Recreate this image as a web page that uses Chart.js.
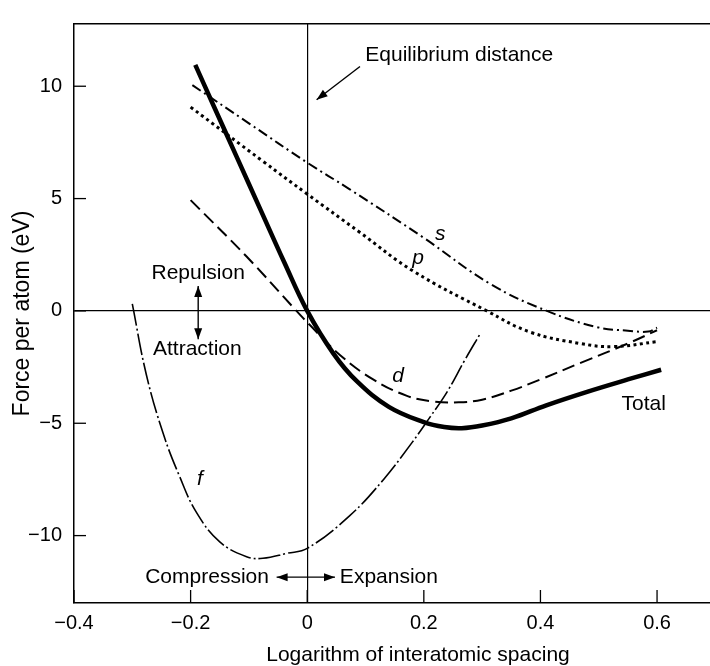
<!DOCTYPE html>
<html><head><meta charset="utf-8">
<script src="https://cdn.jsdelivr.net/npm/chart.js@4/dist/chart.umd.min.js"></script>
<style>html,body{margin:0;padding:0;overflow:hidden;background:#fff}
#wrap{position:relative;width:762px;height:666px}</style></head>
<body><div id="wrap"><canvas id="c"></canvas></div>
<script>
// ---- tick labels ----
const xTicks = [-0.4, -0.2, 0, 0.2, 0.4, 0.6];
const yTicks = [-10, -5, 0, 5, 10];

// ---- series ----
const totalX = [-0.192,-0.16,-0.12,-0.08,-0.04,0,0.045,0.085,0.14,0.2,0.235,0.265,0.3,0.35,0.41,0.48,0.55,0.607];
const totalY = [10.95,9.1,6.8,4.5,2.2,0,-1.9,-3.13,-4.27,-4.95,-5.17,-5.22,-5.1,-4.78,-4.2,-3.6,-3.05,-2.62];

const sX = [-0.197,-0.1,0,0.073,0.2,0.314,0.411,0.497,0.55,0.585,0.6];
const sY = [10.05,8.35,6.6,5.41,3.25,1.2,0.0,-0.72,-0.88,-0.92,-0.75];

const pX = [-0.2,-0.076,0,0.09,0.182,0.308,0.382,0.468,0.525,0.6];
const pY = [9.07,6.66,5.2,3.5,1.77,0,-0.94,-1.45,-1.59,-1.37];

const dX = [-0.2,-0.104,-0.024,0.005,0.056,0.113,0.171,0.216,0.26,0.3,0.35,0.4,0.47,0.55,0.6];
const dY = [4.93,2.42,0.16,-0.64,-1.96,-3.05,-3.78,-4.03,-4.07,-3.95,-3.55,-3.05,-2.3,-1.45,-0.86];

const fX = [-0.3,-0.276,-0.247,-0.219,-0.19,-0.15,-0.104,-0.076,-0.035,0,0.073,0.131,0.18,0.21,0.24,0.27,0.297];
const fY = [0.31,-2.83,-5.46,-7.36,-8.97,-10.28,-10.94,-11.01,-10.79,-10.57,-9.11,-7.5,-5.85,-4.75,-3.6,-2.2,-1.0];

// ---- annotation texts (data coordinates) ----
const notes = [
  {text:'Equilibrium distance', x:0.0996, y:11.37, align:'left'},
  {text:'Repulsion', x:-0.187, y:1.68, align:'center'},
  {text:'Attraction', x:-0.1885, y:-1.70, align:'center'},
  {text:'Compression', x:-0.1718, y:-11.85, align:'center'},
  {text:'Expansion', x:0.056, y:-11.85, align:'left'},
  {text:'Total', x:0.577, y:-4.13, align:'center'},
  {text:'s', x:0.228, y:3.42, align:'center', italic:true},
  {text:'p', x:0.19, y:2.35, align:'center', italic:true},
  {text:'d', x:0.156, y:-2.9, align:'center', italic:true},
  {text:'f', x:-0.184, y:-7.5, align:'center', italic:true}
];
const arrows = [
  {x1:0.0905, y1:10.88, x2:0.0161, y2:9.4, h1:false, h2:true},
  {x1:-0.187, y1:1.11, x2:-0.187, y2:-1.26, h1:true, h2:true},
  {x1:-0.0525, y1:-11.85, x2:0.0476, y2:-11.85, h1:true, h2:true}
];

const FONT = '"Liberation Sans", Arial, Helvetica, sans-serif';
const zip = (xs, ys) => xs.map((x, i) => ({x, y: ys[i]}));
const fmt = v => (v < 0 ? '\u2212' : '') + String(Math.abs(Math.round(v * 10) / 10));

function head(ctx, xa, ya, xb, yb) {
  const a = Math.atan2(yb - ya, xb - xa), L = 11, W = 4;
  ctx.beginPath();
  ctx.moveTo(xb, yb);
  ctx.lineTo(xb - L * Math.cos(a) + W * Math.sin(a), yb - L * Math.sin(a) - W * Math.cos(a));
  ctx.lineTo(xb - L * Math.cos(a) - W * Math.sin(a), yb - L * Math.sin(a) + W * Math.cos(a));
  ctx.closePath();
  ctx.fill();
}

const decor = {
  id: 'decor',
  afterDatasetsDraw(chart) {
    const {ctx, chartArea: ca, scales: {x, y}} = chart;
    ctx.save();
    ctx.strokeStyle = '#000'; ctx.fillStyle = '#000';
    ctx.lineWidth = 1.3;
    yTicks.forEach(v => {
      const py = y.getPixelForValue(v);
      ctx.beginPath(); ctx.moveTo(ca.left, py); ctx.lineTo(ca.left + 12, py); ctx.stroke();
    });
    xTicks.forEach(v => {
      const px = x.getPixelForValue(v);
      ctx.beginPath(); ctx.moveTo(px, ca.bottom); ctx.lineTo(px, ca.bottom - 13); ctx.stroke();
    });
    ctx.lineWidth = 1.4;
    arrows.forEach(a => {
      const X1 = x.getPixelForValue(a.x1), Y1 = y.getPixelForValue(a.y1);
      const X2 = x.getPixelForValue(a.x2), Y2 = y.getPixelForValue(a.y2);
      ctx.beginPath(); ctx.moveTo(X1, Y1); ctx.lineTo(X2, Y2); ctx.stroke();
      if (a.h2) head(ctx, X1, Y1, X2, Y2);
      if (a.h1) head(ctx, X2, Y2, X1, Y1);
    });
    ctx.textBaseline = 'middle';
    notes.forEach(n => {
      ctx.font = (n.italic ? 'italic ' : '') + '21px ' + FONT;
      ctx.textAlign = n.align;
      ctx.fillText(n.text, x.getPixelForValue(n.x), y.getPixelForValue(n.y));
    });
    ctx.restore();
  }
};

const base = {borderColor:'#000', pointRadius:0, fill:false, tension:0.4, borderCapStyle:'butt', borderJoinStyle:'round'};

new Chart(document.getElementById('c'), {
  type: 'line',
  data: {
    datasets: [
      Object.assign({label:'f', data: zip(fX, fY), borderWidth:1.6, borderDash:[22,3,2,3]}, base),
      Object.assign({label:'d', data: zip(dX, dY), borderWidth:2, borderDash:[13,6]}, base),
      Object.assign({label:'p', data: zip(pX, pY), borderWidth:3, borderDash:[3,3.5]}, base),
      Object.assign({label:'s', data: zip(sX, sY), borderWidth:2, borderDash:[10,4,2,4]}, base),
      Object.assign({label:'Total', data: zip(totalX, totalY), borderWidth:4.5}, base)
    ]
  },
  options: {
    responsive: true,
    maintainAspectRatio: false,
    animation: false,
    layout: {padding: {top:0, right:0, bottom:0, left:0}},
    plugins: {legend:{display:false}, tooltip:{enabled:false}},
    scales: {
      x: {
        type:'linear', position:'bottom', min:-0.4, max:0.78,
        afterBuildTicks: s => { s.ticks = xTicks.map(v => ({value:v})); },
        afterFit: s => { s.height = 63; },
        grid: {drawTicks:false, color: c => (c.tick && c.tick.value === 0) ? '#000' : 'rgba(0,0,0,0)', lineWidth:1.2},
        border: {display:true, color:'#000', width:1.5},
        ticks: {padding:8, autoSkip:false, maxRotation:0, color:'#000', font:{family:FONT, size:20}, callback: v => fmt(v)},
        title: {display:true, text:'Logarithm of interatomic spacing', color:'#000', font:{family:FONT, size:21, lineHeight:1}, padding:{top:0, bottom:0}}
      },
      x2: {
        type:'linear', position:'top', min:-0.4, max:0.78,
        afterFit: s => { s.height = 14; },
        grid: {display:false, drawTicks:false},
        ticks: {display:false},
        border: {display:true, color:'#000', width:1.5}
      },
      y: {
        type:'linear', position:'left', min:-13, max:12.77,
        afterBuildTicks: s => { s.ticks = yTicks.map(v => ({value:v})); },
        afterFit: s => { s.width = 74; },
        grid: {drawTicks:false, color: c => (c.tick && c.tick.value === 0) ? '#000' : 'rgba(0,0,0,0)', lineWidth:1.2},
        border: {display:true, color:'#000', width:1.5},
        ticks: {padding:12, autoSkip:false, color:'#000', font:{family:FONT, size:20}, callback: v => fmt(v)},
        title: {display:true, text:'Force per atom (eV)', color:'#000', font:{family:FONT, size:23, lineHeight:1}, padding:{top:11.5, bottom:0}}
      }
    }
  },
  plugins: [decor]
});
</script>
</body></html>
